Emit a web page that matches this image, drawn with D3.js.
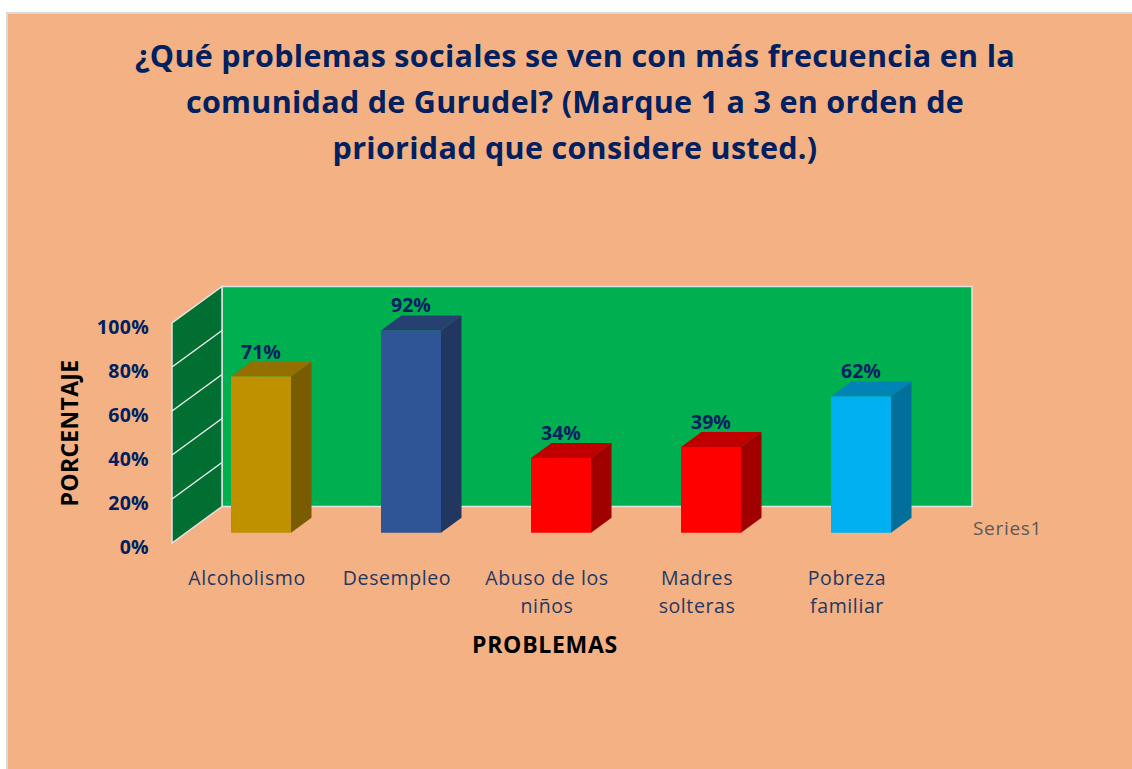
<!DOCTYPE html>
<html>
<head>
<meta charset="utf-8">
<script src="https://cdn.jsdelivr.net/npm/d3@7"></script>
<style>
  body { margin: 0; background: #fff; }
  svg { display: block; font-family: "Open Sans", Lato, sans-serif; }
</style>
</head>
<body>
<svg id="chart" width="1132" height="769"></svg>
<script>
var titleLines = [
  "¿Qué problemas sociales se ven con más frecuencia en la",
  "comunidad de Gurudel? (Marque 1 a 3 en orden de",
  "prioridad que considere usted.)"
]
var categories = ["Alcoholismo", "Desempleo", "Abuso de los niños", "Madres solteras", "Pobreza familiar"]
var values = [0.71, 0.92, 0.34, 0.39, 0.62]
var yTicks = [0, 0.2, 0.4, 0.6, 0.8, 1]
var seriesName = "Series1"
var yTitle = "PORCENTAJE"
var xTitle = "PROBLEMAS"

var navy = "#002060"

// colours per bar: front, side, top
var front = d3.scaleOrdinal().domain(categories).range(["#BF9000", "#2F5597", "#FF0000", "#FF0000", "#00B0F0"])
var side = d3.scaleOrdinal().domain(categories).range(["#7A5C00", "#223760", "#A00000", "#A00000", "#006F99"])
var top_ = d3.scaleOrdinal().domain(categories).range(["#947000", "#26406F", "#C00000", "#C00000", "#0083B5"])

var svg = d3.select("#chart")

svg.append("rect")
   .attr("x", 7).attr("y", 13)
   .attr("width", 1140).attr("height", 770)
   .attr("fill", "#F4B183")
   .attr("stroke", "#d9d9d9")
   .attr("stroke-width", 2)

// 3d-ish projection: z = 0 front plane, z = 1 back wall
var DX = 50, DY = 36.5
var x = d3.scaleBand().domain(categories).range([172, 922]).paddingInner(0.6).paddingOuter(0.3)
var y = d3.scaleLinear().domain([0, 1]).range([543, 323])

function proj(px, v, z) {
  return [px + z * DX, y(v) - z * DY]
}
function pts(list) {
  return list.map(p => p.join(",")).join(" ")
}

var x0 = x.range()[0], x1 = x.range()[1]

// back wall
svg.append("polygon")
   .attr("points", pts([proj(x0, 0, 1), proj(x0, 1, 1), proj(x1, 1, 1), proj(x1, 0, 1)]))
   .attr("fill", "#00B050")
   .attr("stroke", "#e3e3e3")
   .attr("stroke-width", 1.5)

// side wall
svg.append("polygon")
   .attr("points", pts([proj(x0, 0, 0), proj(x0, 1, 0), proj(x0, 1, 1), proj(x0, 0, 1)]))
   .attr("fill", "#006F31")
   .attr("stroke", "#e3e3e3")
   .attr("stroke-width", 1.5)

svg.selectAll("line.grid")
   .data(yTicks.slice(1, -1))
   .enter()
   .append("line")
   .attr("class", "grid")
   .attr("x1", d => proj(x0, d, 0)[0])
   .attr("y1", d => proj(x0, d, 0)[1])
   .attr("x2", d => proj(x0, d, 1)[0])
   .attr("y2", d => proj(x0, d, 1)[1])
   .attr("stroke", "#eeeeee")
   .attr("stroke-width", 1.5)

// bars
var zf = 0.28, zb = 0.69
var bw = x.bandwidth()
var data = categories.map((c, i) => ({ cat: c, v: values[i] }))

var bars = svg.selectAll("g.bar")
   .data(data)
   .enter()
   .append("g")
   .attr("class", "bar")

bars.append("polygon")
    .attr("points", d => {
      var a = x(d.cat), b = a + bw
      return pts([proj(b, 0, zf), proj(b, d.v, zf), proj(b, d.v, zb), proj(b, 0, zb)])
    })
    .attr("fill", d => side(d.cat))

bars.append("polygon")
    .attr("points", d => {
      var a = x(d.cat), b = a + bw
      return pts([proj(a, d.v, zf), proj(b, d.v, zf), proj(b, d.v, zb), proj(a, d.v, zb)])
    })
    .attr("fill", d => top_(d.cat))

bars.append("polygon")
    .attr("points", d => {
      var a = x(d.cat), b = a + bw
      return pts([proj(a, 0, zf), proj(a, d.v, zf), proj(b, d.v, zf), proj(b, 0, zf)])
    })
    .attr("fill", d => front(d.cat))

bars.append("text")
    .attr("x", d => proj(x(d.cat) + bw / 2, d.v, zf)[0])
    .attr("y", d => proj(0, d.v, zb)[1] - 3)
    .attr("text-anchor", "middle")
    .attr("font-size", 19.5)
    .attr("font-weight", "bold")
    .attr("fill", navy)
    .text(d => d3.format(".0%")(d.v))

// y axis
var yAxis = svg.append("g")
   .attr("transform", "translate(" + x0 + ",4)")
   .call(d3.axisLeft(y).tickValues(yTicks).tickFormat(d3.format(".0%")).tickSize(0).tickPadding(23))
yAxis.select(".domain").remove()
yAxis.selectAll("text")
     .attr("font-family", "'Open Sans', sans-serif")
     .attr("font-size", 19.5)
     .attr("font-weight", "bold")
     .attr("letter-spacing", 0.3)
     .attr("fill", navy)

// x axis
var xAxis = svg.append("g")
   .attr("transform", "translate(0,570)")
   .call(d3.axisBottom(x).tickSize(0).tickPadding(0))
xAxis.select(".domain").remove()
xAxis.selectAll("text")
     .attr("font-family", "'Open Sans', sans-serif")
     .attr("font-size", 19.5)
     .attr("letter-spacing", 0.6)
     .attr("fill", "#1F3864")
     .each(function (d) {
       var t = d3.select(this)
       var words = d.split(" ")
       t.text(null).attr("dy", null).attr("y", 15)
       var line = [], ts = t.append("tspan").attr("x", 0)
       words.forEach(w => {
         line.push(w)
         ts.text(line.join(" "))
         if (ts.node().getComputedTextLength() > 135 && line.length > 1) {
           line.pop()
           ts.text(line.join(" "))
           line = [w]
           ts = t.append("tspan").attr("x", 0).attr("dy", 28).text(w)
         }
       })
     })

// axis titles
svg.append("text")
   .attr("transform", "translate(78,433) rotate(-90)")
   .attr("text-anchor", "middle")
   .attr("font-size", 23)
   .attr("font-weight", "bold")
   .attr("letter-spacing", 0.3)
   .attr("fill", "#000")
   .text(yTitle)

svg.append("text")
   .attr("x", 545).attr("y", 653)
   .attr("text-anchor", "middle")
   .attr("font-size", 23)
   .attr("font-weight", "bold")
   .attr("letter-spacing", 0.7)
   .attr("fill", "#000")
   .text(xTitle)

svg.append("text")
   .attr("x", 973).attr("y", 535)
   .attr("font-size", 19)
   .attr("letter-spacing", 0.7)
   .attr("fill", "#595959")
   .text(seriesName)

// title, spread so the first line fills the same width as the original
var title = svg.selectAll("text.title")
   .data(titleLines)
   .enter()
   .append("text")
   .attr("class", "title")
   .attr("x", 575)
   .attr("y", (d, i) => 67 + i * 46)
   .attr("text-anchor", "middle")
   .attr("font-size", 30.5)
   .attr("font-weight", "bold")
   .attr("fill", navy)
   .text(d => d)

var first = title.node()
var ls = (880 - first.getComputedTextLength()) / titleLines[0].length
title.attr("letter-spacing", Math.max(0, ls))
</script>
</body>
</html>
